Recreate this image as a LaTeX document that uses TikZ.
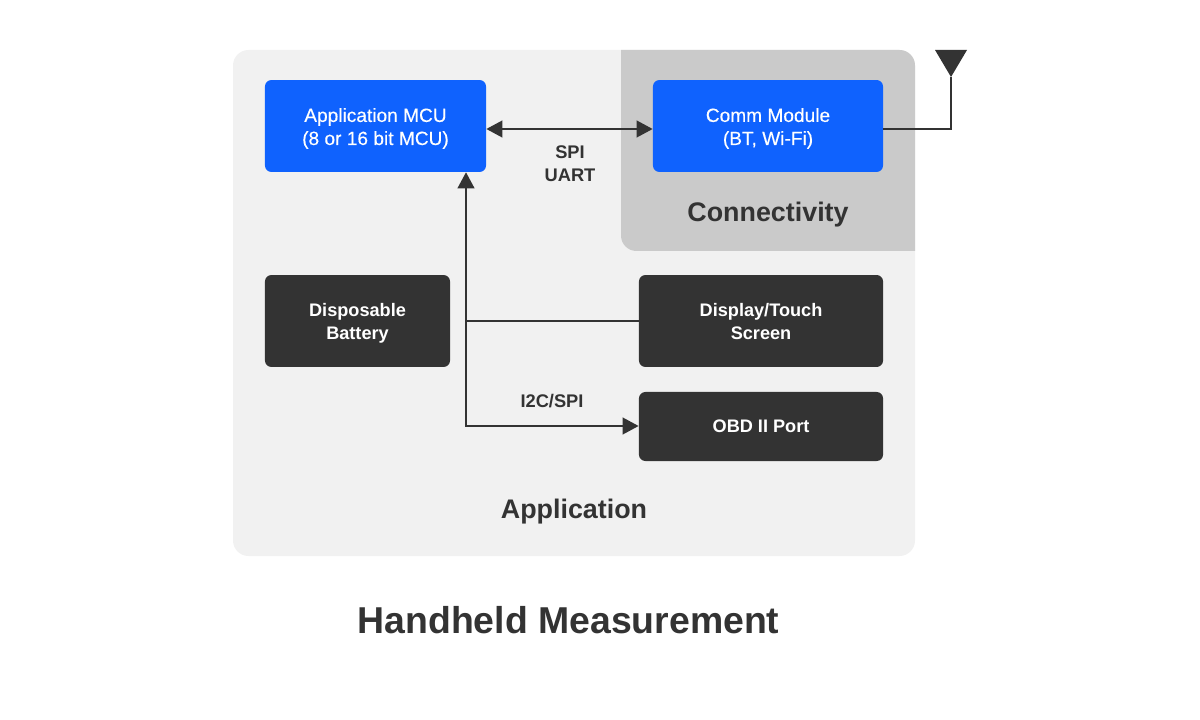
\documentclass[tikz,border=0pt]{standalone}
\usepackage{fontspec}
\setmainfont{Liberation Sans}
\newfontfamily\medfont[FakeBold=0.25]{Liberation Sans}
\usetikzlibrary{arrows.meta}
\definecolor{darkbox}{HTML}{333333}
\definecolor{bluebox}{HTML}{0F62FE}
\definecolor{panelapp}{HTML}{F1F1F1}
\definecolor{panelconn}{HTML}{CACACA}
\tikzset{
  boxbase/.style={rounded corners=4.6pt, align=center, inner sep=0pt, text=white},
  twolines/.style={text height=27pt, text depth=0pt},
  bluenode/.style={boxbase, twolines, fill=bluebox, font=\fontsize{13.6}{16.4}\medfont},
  darknode/.style={boxbase, fill=darkbox, font=\fontsize{12.9}{16.4}\selectfont\bfseries},
  wire/.style={draw=darkbox, line width=1.6pt},
  bothtips/.style={{Triangle[length=11.4pt,width=11.8pt]}-{Triangle[length=11.4pt,width=11.8pt]}},
  buslabel/.style={text=darkbox, align=center, font=\fontsize{13}{16.4}\selectfont\bfseries},
  paneltitle/.style={text=darkbox, font=\fontsize{19.1}{24}\selectfont\bfseries}
}
\begin{document}
\begin{tikzpicture}[x=0.025cm, y=-0.025cm]
\useasboundingbox (0,0) rectangle (1200,720);

\fill[panelapp, rounded corners=11pt] (233,50) rectangle (915,556);
\fill[panelconn] (621,50) [rounded corners=11pt] -- (915,50) [sharp corners] -- (915,251) [rounded corners=11pt] -- (621,251) [sharp corners] -- cycle;

\node[bluenode, minimum width=157.2pt, minimum height=65.4pt] (mcu) at (375.5,126) {Application MCU\\(8 or 16 bit MCU)};
\node[bluenode, minimum width=163.6pt, minimum height=65.4pt] (comm) at (768,126) {Comm Module\\(BT, Wi-Fi)};
\node[darknode, twolines, minimum width=131.6pt, minimum height=65.4pt] (battery) at (357.5,321) {Disposable\\Battery};
\node[darknode, twolines, minimum width=173.6pt, minimum height=65.4pt] (display) at (761,321) {Display/Touch\\Screen};
\node[darknode, minimum width=173.6pt, minimum height=49.1pt] (obd) at (761,426.5) {OBD II Port};

\coordinate (bend) at (466,426);
\coordinate (spibus) at (570,129);
\coordinate (tipant) at (951,77);

\draw[wire, bothtips] (mcu.east |- spibus) -- (comm.west |- spibus);
\draw[wire, bothtips] (bend |- mcu.south) -- (bend) -- (obd.west |- bend);
\draw[wire] (display.west) -- (bend |- display.west);
\draw[wire] (comm.east |- spibus) -- (tipant |- spibus) -- (tipant);
\fill[darkbox] (935,50) -- (967,50) -- (tipant) -- cycle;

\node[buslabel] (spi) at (570,163.5) {SPI\\UART};
\node[buslabel] (i2c) at (552,401.5) {I2C/SPI};
\node[paneltitle] (conn) at (768,215) {Connectivity};
\node[paneltitle] (app) at (574,512) {Application};
\node[text=darkbox, font=\fontsize{26.6}{30}\selectfont\bfseries] (title) at (568.5,620) {Handheld Measurement};
\end{tikzpicture}
\end{document}
